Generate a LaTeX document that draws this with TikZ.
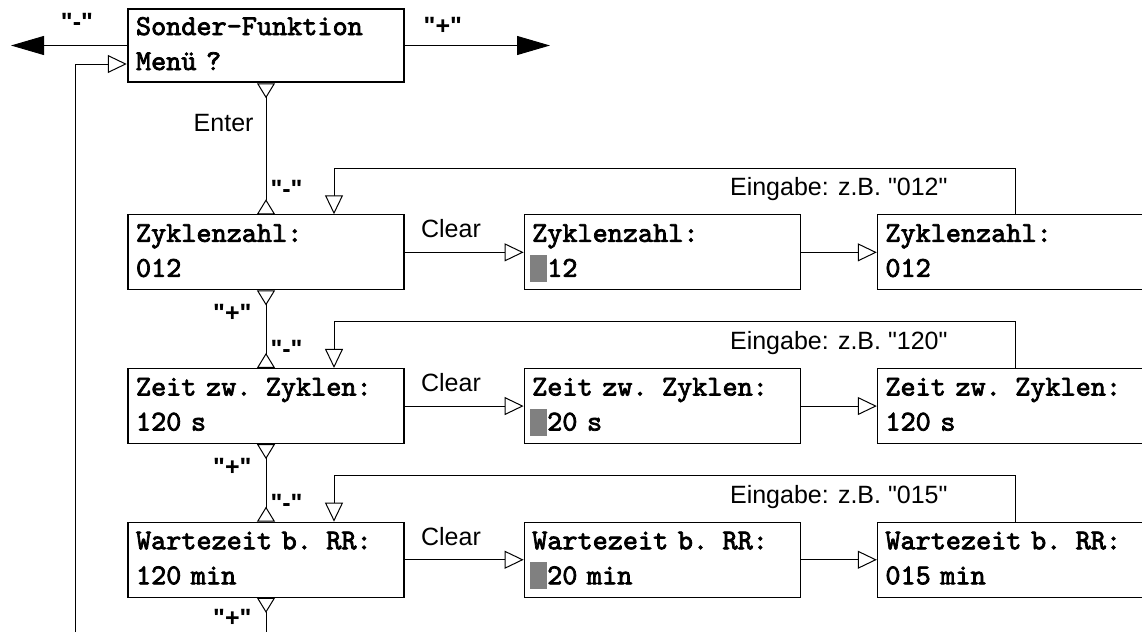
\documentclass[tikz,border=0pt]{standalone}
\usepackage{fontspec}
\setmainfont{Liberation Sans}[Ligatures=TeXOff]
\setmonofont{lmmono10-regular.otf}[AutoFakeBold=2.6]
\usetikzlibrary{arrows.meta,positioning,calc}
\definecolor{cursorgray}{HTML}{808080}
\newcommand{\zeilen}[2]{\strut #1\\\strut #2}
\newcommand{\cursor}{\kern-2pt\textcolor{cursorgray}{\rule[-5pt]{17pt}{27pt}}}

\begin{document}
\begin{tikzpicture}[x=1pt,y=-1pt,node distance=77.5pt and 119pt,line width=1pt,
 lcd/.style={draw,line width=1.2pt,align=left,text width=260pt,inner xsep=8pt,inner ysep=2.5pt,font=\ttfamily\bfseries\fontsize{28.8}{35}\selectfont},
 menubox/.style={lcd,line width=2.5pt,inner ysep=1.5pt},
 lbl/.style={inner sep=0pt,font=\fontsize{25}{30}\selectfont},
 key/.style={inner sep=0pt,font=\bfseries\fontsize{25}{30}\selectfont},
 hollow/.style={-{Triangle[open,length=19pt,width=18pt,fill=white]}},
 flow/.style={{Triangle[open,reversed,length=15pt,width=18pt]}-{Triangle[open,reversed,length=15pt,width=18pt]}},
 flowtop/.style={{Triangle[open,reversed,length=15pt,width=18pt]}-},
 big/.style={-{Triangle[length=33pt,width=19pt]}}]
\useasboundingbox (0,0) rectangle (1142,632);
\node[menubox] (menu) at (266,45.5) {\zeilen{Sonder-Funktion}{Menü ?}};
\node[lcd,below=131pt of menu] (zahl) {\zeilen{Zyklenzahl:}{012}};
\node[lcd,right=of zahl] (zahlclr) {\zeilen{Zyklenzahl:}{\cursor 12}};
\node[lcd,right=76pt of zahlclr] (zahlneu) {\zeilen{Zyklenzahl:}{012}};
\node[lcd,below=of zahl] (zeit) {\zeilen{Zeit zw. Zyklen:}{120 s}};
\node[lcd,right=of zeit] (zeitclr) {\zeilen{Zeit zw. Zyklen:}{\cursor 20 s}};
\node[lcd,right=76pt of zeitclr] (zeitneu) {\zeilen{Zeit zw. Zyklen:}{120 s}};
\node[lcd,below=of zeit] (warte) {\zeilen{Wartezeit b. RR:}{120 min}};
\node[lcd,right=of warte] (warteclr) {\zeilen{Wartezeit b. RR:}{\cursor 20 min}};
\node[lcd,right=76pt of warteclr] (warteneu) {\zeilen{Wartezeit b. RR:}{015 min}};
\coordinate (links) at (11,45.5);
\coordinate (rechts) at (550,45.5);
\coordinate (ruecklauf) at (75,632);
\coordinate (ende) at (warte.south |- 0,632);
\draw[big] (menu) -- node[key,above=15pt,pos=.43] {"-"} (links);
\draw[big] (menu) -- node[key,above=11pt,pos=.26] {"+"} (rechts);
\draw[hollow] (ruecklauf) |- ([yshift=-18.5pt]menu.west);
\draw[flow] (menu) -- node[lbl,left=12pt,pos=.305] {Enter} node[key,right=4pt,pos=.81] {"-"} (zahl);
\draw[flow] (zahl) -- node[key,left=14pt,pos=.29] {"+"} node[key,right=4pt,pos=.76] {"-"} (zeit);
\draw[flow] (zeit) -- node[key,left=14pt,pos=.29] {"+"} node[key,right=4pt,pos=.76] {"-"} (warte);
\draw[flowtop] (warte) -- node[key,left=14pt,pos=.58] {"+"} (ende);
\draw[hollow] (zahl) -- node[lbl,above=14pt,pos=.39] {Clear} (zahlclr);
\draw[hollow] (zahlclr) -- (zahlneu);
\draw[hollow] (zahlneu.north) -- ++(0,-46) -| ([xshift=68pt]zahl.north);
\node[lbl] (einzahl) at ($(zahlclr.north)!.5!(zahlneu.north)+(0,-25)$) {Eingabe: z.B. "012"};
\draw[hollow] (zeit) -- node[lbl,above=14pt,pos=.39] {Clear} (zeitclr);
\draw[hollow] (zeitclr) -- (zeitneu);
\draw[hollow] (zeitneu.north) -- ++(0,-46) -| ([xshift=68pt]zeit.north);
\node[lbl] (einzeit) at ($(zeitclr.north)!.5!(zeitneu.north)+(0,-25)$) {Eingabe: z.B. "120"};
\draw[hollow] (warte) -- node[lbl,above=14pt,pos=.39] {Clear} (warteclr);
\draw[hollow] (warteclr) -- (warteneu);
\draw[hollow] (warteneu.north) -- ++(0,-46) -| ([xshift=68pt]warte.north);
\node[lbl] (einwarte) at ($(warteclr.north)!.5!(warteneu.north)+(0,-25)$) {Eingabe: z.B. "015"};
\end{tikzpicture}
\end{document}
